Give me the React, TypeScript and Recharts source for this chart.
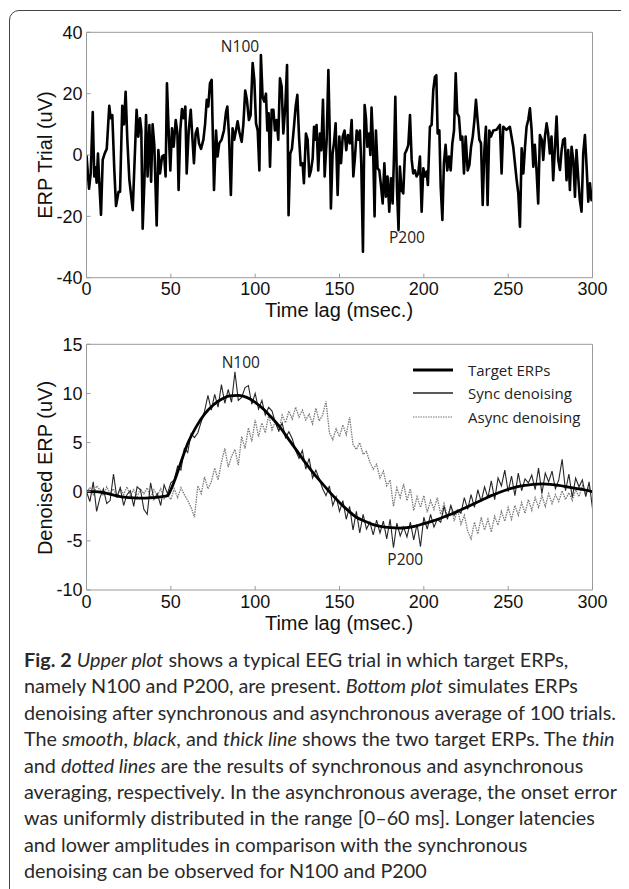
import React from "react";
import { LineChart, Line, XAxis, YAxis, ReferenceDot } from "recharts";

// upper plot: single EEG trial (time in ms, amplitude in uV)
const trialT = [
  0, 1.5, 2.5, 3.7, 4.6, 5.4, 6, 6.8, 7.4, 8.6, 9.6, 10.8, 12, 13.5, 14.3, 15.3, 16.5, 17.5, 19, 19.9,
  21.2, 22.2, 23.2, 24.2, 25.4, 27.4, 29, 29.7, 30.7, 31.7, 32.5, 33.3, 34.3, 35.3, 36.2, 37.3, 38.3, 39.2, 40.2, 41.6,
  42.6, 43.6, 44.8, 46, 46.9, 47.7, 48.7, 49.7, 50.7, 51.7, 52.9, 53.9, 54.6, 55.6, 56.6, 57.6, 58.6, 59.4, 60.6, 61.8,
  62.8, 63.7, 64.7, 65.7, 66.7, 67.9, 69.3, 70.3, 71.3, 72.2, 73.2, 74.2, 75.6, 76.8, 77.7, 78.7, 80.1, 81.5, 82.7, 83.5,
  84.5, 85.6, 86.6, 87.6, 88.6, 89.6, 90.6, 92, 93, 94.1, 95.1, 96.3, 97.3, 98.5, 99.5, 100.5, 101.5, 102.5, 103.4, 104.4,
  105.4, 106.4, 107.2, 108, 108.8, 109.8, 110.8, 111.7, 112.7, 113.7, 114.7, 115.7, 116.7, 117.9, 118.9, 119.8, 120.8, 121.8, 123, 124,
  125, 126, 127, 128.1, 128.9, 130.1, 131.1, 132.1, 133.1, 134.1, 134.9, 135.7, 136.4, 137.4, 138.4, 139.2, 140.2, 141.2, 142.4, 143.4,
  144.1, 144.9, 145.9, 146.7, 147.7, 148.9, 149.9, 150.9, 151.9, 153, 154, 155, 156.2, 157.2, 158.2, 159.2, 160.2, 161.1, 162.1, 162.9,
  163.9, 164.9, 165.7, 166.5, 167.5, 168.3, 169, 169.8, 170.8, 171.6, 172.6, 173.6, 174.6, 175.6, 176.6, 177.5, 178.5, 179.5, 180.5, 181.5,
  182.3, 183.1, 184.1, 185, 185.8, 186.8, 187.8, 188.8, 189.8, 190.8, 191.8, 192.8, 193.7, 194.7, 195.7, 196.7, 197.7, 198.7, 199.7, 200.7,
  201.7, 202.4, 203.6, 204.6, 205.6, 206.6, 207.4, 208.2, 209.2, 210, 211, 211.9, 212.9, 213.9, 214.9, 215.9, 216.9, 217.9, 218.9, 219.8,
  220.8, 221.8, 222.8, 223.8, 224.8, 226, 227, 228, 229, 230, 230.9, 231.9, 232.9, 233.9, 234.9, 235.9, 236.8, 237.8, 238.8, 239.8,
  241.2, 243.1, 245.1, 246.1, 247.1, 249, 251, 253, 255, 256, 257, 258, 259, 260, 260.9, 261.9, 262.9, 263.9, 264.9, 265.8,
  266.8, 267.8, 268.8, 270, 270.8, 271.8, 272.8, 273.7, 274.7, 275.7, 276.7, 277.7, 278.7, 279.7, 280.7, 281.7, 282.6, 283.6, 284.6, 285.6,
  286.6, 287.6, 288.6, 289.6, 290.5, 291.5, 292.5, 293.5, 294.5, 295.5, 296.5, 297.5, 298.5, 299.4, 300,
];
const trialV = [
  0, -11, -6, 14, -7, -4, -9, 0.5, -7, -19.5, -1.6, 0.5, 2, 16, 12, 13, -5, -16.6, -12, -12,
  16, 10, 20.6, 5, -8, -18, 5, 14.7, 6, 12, 8, -24, -9, 13, -7, 9.8, -8.7, 10, 3.3, -23,
  1.6, -6, -0.5, 0, -7, 23.4, 8, -5, 8.7, 2.7, 11.4, 7, -11.4, 8, 15, 12, 15.8, -6, 8, 14.7,
  5.4, -2.7, 7, 8.7, 3.8, 2, 5, 10, 18, 15.8, 23.4, 24.5, -11.4, 8, -0.5, 3.8, 5, 8, 14, 15.8,
  6, -13, 8.7, 5, 8, 11, 7.6, 4.3, 10, 21, 18, 11.4, 13, 30, 24.5, 10.3, 8, -5, 32.6, 19,
  17.4, 20, 8, 13.6, -3.8, 14.7, 14.7, 8, 11.4, 5, 25, 22.3, 7, 16.3, 29.3, -19.6, 0.5, 2, 9.2, 15.8,
  19.6, 6, -3.3, -2.7, -9.2, 7, 5, -7, -5, -1.1, 9.2, 5, 9.8, -5, 7, 1.6, 18, -7, 5, 27.7,
  10.3, -17.4, 0.5, 3.8, 10.3, -13, 6, -2.7, 6, 8, 1.6, 6.5, 3.8, 11.4, -7, -0.5, 8, 5, 8, -2.7,
  -31.5, 16.3, 12, 2.7, 7, 0, 15.5, 5, -20, 8, -4.3, -5, -10, -15.8, -2.7, -13.6, -7, -18.5, -7.6, -15.8,
  -0.5, 19, -11.4, -24.5, -3.8, -11.4, -12.5, 0.5, 1.6, 3.3, 13, -1.6, -6, -5, -7, -6, -0.5, -18.5, -4.3, -7,
  -5.4, -9.8, 9.2, 9.8, 21.2, 25.5, 26, 7, 8, -10.3, -21.2, -2.7, 3.3, -5, -0.5, -5, 3.8, 8, 26.6, 13.6,
  12.5, 5, 6, -6, 6, -5, -3.3, 2.7, 6, 11.4, 18, 11.4, 5, 3.8, -16.3, 1.6, 9.2, -16.3, 8, 6,
  8, 8.2, 9.8, -6, 9.2, 8.2, 9.2, 2.7, -8, -12.5, -23.4, 2.2, -6, 2.7, 9.2, 11.4, 15.2, 8.2, -3.8, 3.3,
  -4.9, -15.8, 6.5, 4.9, -1.6, 6, 10.3, 7, 0.5, 6, -8.2, 2.2, 12.5, -1.6, -4.9, 1.6, 4.9, 5.4, -8.2, 1.6,
  -11.4, 2.7, -1.6, -13.6, 1.6, -7, -14.7, -18.5, 0.5, 6.5, -3.8, -15.2, -9.2, -14.7, -13.6,
];

// lower plot: target ERP (smooth), every 5 ms
const targetT = [
  0, 5, 10, 15, 20, 25, 30, 35, 40, 45, 48, 50, 53, 56, 60, 65, 70, 75, 80, 85, 90, 95, 100, 105, 110, 115, 120,
  125, 130, 135, 140, 145, 150, 155, 160, 165, 170, 175, 180, 185, 190, 195, 200, 205, 210, 215, 220, 225, 230,
  235, 240, 245, 250, 255, 260, 265, 270, 275, 280, 285, 290, 295, 300,
];
const targetV = [
  0, 0, -0.1, -0.3, -0.5, -0.6, -0.65, -0.65, -0.6, -0.5, -0.4, 0.2, 1.5, 3.0, 4.9, 6.6, 7.9, 8.8, 9.4, 9.75, 9.8,
  9.6, 9.1, 8.4, 7.5, 6.5, 5.3, 4.1, 2.9, 1.8, 0.8, -0.2, -1.1, -1.9, -2.6, -3.0, -3.35, -3.55, -3.65, -3.7, -3.65,
  -3.5, -3.25, -3.0, -2.7, -2.35, -2.0, -1.6, -1.2, -0.8, -0.4, -0.05, 0.25, 0.5, 0.65, 0.75, 0.8, 0.75, 0.65, 0.5,
  0.35, 0.2, 0,
];

// sync / async averages, every 2 ms from 0 to 300
const syncV = [
  0, -1.0, 1.0, -2.0, -0.6, 0.3, -1.2, -0.9, 1.8, -0.6, 0.4, -1.4, -0.3, 0.1, -1.5, 0.5, 0.2, -1.8, -2.3, 0.9,
  -0.8, -0.2, -1.4, 0.7, -0.2, 0.9, 1.2, 2.6, 2.2, 4.4, 4.0, 5.9, 5.5, 6.0, 7.1, 8.2, 9.8, 8.3, 9.9, 8.6,
  10.9, 9.0, 10.4, 9.1, 12.2, 9.3, 9.6, 10.6, 10.8, 8.9, 10.0, 8.4, 9.3, 7.8, 8.6, 8.2, 7.0, 6.2, 7.0, 5.5,
  6.1, 5.4, 4.2, 3.4, 4.2, 2.3, 3.4, 1.4, 2.2, 1.3, 0.3, -0.4, 0.6, -1.4, -0.5, -2.0, -0.9, -2.8, -1.5, -3.9,
  -2.0, -4.2, -2.3, -3.8, -3.1, -4.4, -2.9, -4.2, -3.0, -4.8, -2.8, -5.7, -3.2, -4.5, -3.6, -4.6, -3.1, -4.9, -3.3, -5.6,
  -2.6, -3.8, -2.3, -3.6, -2.8, -3.1, -1.5, -2.8, -1.4, -2.4, -1.9, -2.2, -0.6, -1.8, -0.3, -1.6, 0.2, -1.0, 0.5, -0.6,
  1.1, -0.8, 1.4, 0.6, 2.2, 0.0, 1.6, -0.4, 1.9, 0.1, 1.3, 0.9, 1.7, 0.2, 2.4, -0.2, 1.9, 1.0, 2.1, 0.3,
  1.2, 3.3, 0.1, 1.8, -0.6, 1.4, 0.5, 1.2, -0.5, 1.0, -1.7,
];
const asyncV = [
  0, 0.4, -0.3, 0.6, 0.2, -0.4, 0.5, -0.2, 0.3, -0.5, 0.4, -0.3, 0.5, -0.4, 0.2, -0.5, 0.3, -0.2, 0.4, -0.6,
  0.2, -0.4, 0.3, -0.7, -0.3, -0.8, 0.3, -0.6, 0.4, -0.3, -0.9, -1.6, -2.6, 0.6, -0.2, 1.5, 0.3, 1.0, 2.4, 1.2,
  3.0, 4.4, 2.5, 3.6, 4.3, 2.7, 5.6, 4.4, 6.5, 5.1, 7.3, 5.6, 7.0, 6.0, 7.8, 6.3, 7.2, 6.1, 7.8, 7.0,
  8.2, 7.4, 8.6, 7.6, 8.3, 7.3, 7.9, 6.9, 8.5, 7.2, 7.8, 9.2, 6.0, 5.3, 6.4, 5.6, 6.8, 5.8, 7.6, 4.8,
  4.3, 5.0, 3.8, 4.1, 3.0, 2.3, 2.8, 1.4, 2.1, 0.6, 1.2, -1.5, 0.4, -0.6, 0.8, -0.9, 0.3, -1.9, -0.5, -1.6,
  -0.4, -2.1, -0.9, -1.8, -0.6, -2.3, -1.2, -2.6, -1.4, -3.0, -1.8, -3.3, -2.4, -4.0, -4.8, -3.1, -4.3, -2.6, -3.9, -2.8,
  -4.1, -2.5, -3.4, -2.0, -3.0, -1.6, -2.8, -1.4, -2.4, -1.1, -2.2, -0.8, -1.9, -0.6, -1.6, -0.4, -1.5, -0.2, -1.2, -0.3,
  -1.0, 0.1, -0.8, -0.1, -0.9, 0.2, -0.5, 0.6, -0.3, 0.4, -0.2,
];

const xTicks = [0, 50, 100, 150, 200, 250, 300];
const trialTicks = [-40, -20, 0, 20, 40];
const erpTicks = [-10, -5, 0, 5, 10, 15];

const trialMarks = [
  { name: "N100", t: 91, v: 35.5 },
  { name: "P200", t: 190, v: -26.8 },
];
const erpMarks = [
  { name: "N100", t: 91.5, v: 13.1 },
  { name: "P200", t: 189, v: -6.9 },
];

const legendItems = [
  { name: "Target ERPs", width: 3, color: "#000", dash: undefined },
  { name: "Sync denoising", width: 1.6, color: "#222", dash: undefined },
  { name: "Async denoising", width: 1.2, color: "#777", dash: "1.5 1" },
];

const trialData = trialT.map((t, i) => ({ t, v: trialV[i] }));
const targetData = targetT.map((t, i) => ({ t, v: targetV[i] }));
const syncData = syncV.map((v, i) => ({ t: i * 2, v }));
const asyncData = asyncV.map((v, i) => ({ t: i * 2, v }));

const AXIS = "#9a9a9a";
const tickFont = { fontSize: 18, fill: "#111", fontFamily: "Liberation Sans, Arial, sans-serif" };
const markFont = { fontSize: 15.5, fill: "#222", fontFamily: "Open Sans, sans-serif" };

// box axes with inward ticks on all four sides, MATLAB style
function axes(yDomain: [number, number], yTicks: number[]) {
  return [
    <XAxis
      key="xb"
      dataKey="t"
      type="number"
      domain={[0, 300]}
      ticks={xTicks}
      allowDataOverflow
      height={30.3}
      tickSize={-4}
      tickMargin={9}
      tick={tickFont}
      axisLine={{ stroke: AXIS }}
      tickLine={{ stroke: AXIS }}
    />,
    <XAxis
      key="xt"
      xAxisId="top"
      orientation="top"
      dataKey="t"
      type="number"
      domain={[0, 300]}
      ticks={xTicks}
      height={1}
      tickSize={-4}
      tick={false}
      axisLine={{ stroke: AXIS }}
      tickLine={{ stroke: AXIS }}
    />,
    <YAxis
      key="yl"
      type="number"
      domain={yDomain}
      ticks={yTicks}
      allowDataOverflow
      width={78.5}
      tickSize={-4}
      tickMargin={8}
      tick={tickFont}
      axisLine={{ stroke: AXIS }}
      tickLine={{ stroke: AXIS }}
    />,
    <YAxis
      key="yr"
      yAxisId="right"
      orientation="right"
      type="number"
      domain={yDomain}
      ticks={yTicks}
      width={1}
      tickSize={-4}
      tick={false}
      axisLine={{ stroke: AXIS }}
      tickLine={{ stroke: AXIS }}
    />,
  ];
}

function LegendBox() {
  return (
    <div style={{ fontFamily: "Open Sans, sans-serif", fontSize: 15, color: "#222" }}>
      {legendItems.map((it) => (
        <div key={it.name} style={{ display: "flex", alignItems: "center", height: 23.3 }}>
          <svg width={40} height={8} style={{ marginRight: 15 }}>
            <line x1={0} y1={4} x2={40} y2={4} stroke={it.color} strokeWidth={it.width} strokeDasharray={it.dash} />
          </svg>
          <span style={{ whiteSpace: "nowrap" }}>{it.name}</span>
        </div>
      ))}
    </div>
  );
}

const axisTitle: React.CSSProperties = {
  position: "absolute",
  fontFamily: "Liberation Sans, Arial, sans-serif",
  fontSize: 20,
  lineHeight: "22px",
  color: "#111",
  whiteSpace: "nowrap",
  transform: "translate(-50%, -50%)",
};

const captionLines: React.ReactNode[] = [
  <>
    <b>Fig. 2</b> <i>Upper plot</i> shows a typical EEG trial in which target ERPs,
  </>,
  <>
    namely N100 and P200, are present. <i>Bottom plot</i> simulates ERPs
  </>,
  <>denoising after synchronous and asynchronous average of 100 trials.</>,
  <>
    The <i>smooth</i>, <i>black</i>, and <i>thick line</i> shows the two target ERPs. The <i>thin</i>
  </>,
  <>
    and <i>dotted lines</i> are the results of synchronous and asynchronous
  </>,
  <>averaging, respectively. In the asynchronous average, the onset error</>,
  <>was uniformly distributed in the range [0–60 ms]. Longer latencies</>,
  <>and lower amplitudes in comparison with the synchronous</>,
  <>denoising can be observed for N100 and P200</>,
];

export default function App() {
  return (
    <div style={{ position: "relative", width: 621, height: 881, overflow: "hidden" }}>
      <div
        style={{
          position: "absolute",
          left: 1,
          top: 2,
          width: 700,
          height: 900,
          border: "1.5px solid #444",
          borderRadius: 10,
          boxSizing: "border-box",
        }}
      />

      {/* upper plot */}
      <div style={{ position: "absolute", left: 0, top: 0 }}>
        <LineChart width={621} height={300} margin={{ top: 23.3, right: 35.5, left: 0, bottom: 0 }}>
          {axes([-40, 40], trialTicks)}
          <Line
            data={trialData}
            dataKey="v"
            type="linear"
            stroke="#000"
            strokeWidth={2.6}
            strokeLinejoin="round"
            dot={false}
            isAnimationActive={false}
          />
          {trialMarks.map((m) => (
            <ReferenceDot
              key={m.name}
              x={m.t}
              y={m.v}
              r={1}
              fill="none"
              stroke="none"
              label={{ value: m.name, position: "center", ...markFont }}
            />
          ))}
        </LineChart>
      </div>
      <div style={{ ...axisTitle, left: 339 - 8, top: 310 - 8 }}>Time lag (msec.)</div>
      <div style={{ ...axisTitle, left: 45 - 8, top: 155 - 8, transform: "translate(-50%, -50%) rotate(-90deg)" }}>
        ERP Trial (uV)
      </div>

      {/* lower plot */}
      <div style={{ position: "absolute", left: 0, top: 322 }}>
        <LineChart width={621} height={290.3} margin={{ top: 13.3, right: 35.5, left: 0, bottom: 0 }}>
          {axes([-10, 15], erpTicks)}
          <Line
            data={asyncData}
            dataKey="v"
            type="linear"
            stroke="#7a7a7a"
            strokeWidth={1.3}
            strokeDasharray="1.5 1"
            dot={false}
            isAnimationActive={false}
          />
          <Line
            data={syncData}
            dataKey="v"
            type="linear"
            stroke="#262626"
            strokeWidth={1.1}
            dot={false}
            isAnimationActive={false}
          />
          <Line
            data={targetData}
            dataKey="v"
            type="monotone"
            stroke="#000"
            strokeWidth={2.8}
            dot={false}
            isAnimationActive={false}
          />
          {erpMarks.map((m) => (
            <ReferenceDot
              key={m.name}
              x={m.t}
              y={m.v}
              r={1}
              fill="none"
              stroke="none"
              label={{ value: m.name, position: "center", ...markFont }}
            />
          ))}
        </LineChart>
      </div>
      <div style={{ position: "absolute", left: 413 - 8, top: 358.3 - 8 }}>
        <LegendBox />
      </div>
      <div style={{ ...axisTitle, left: 339 - 8, top: 623 - 8 }}>Time lag (msec.)</div>
      <div style={{ ...axisTitle, left: 45 - 8, top: 467.5 - 8, transform: "translate(-50%, -50%) rotate(-90deg)" }}>
        Denoised ERP (uV)
      </div>

      {/* caption */}
      <div
        style={{
          position: "absolute",
          left: 24 - 8,
          top: 646 - 8,
          fontFamily: "Lato, sans-serif",
          fontSize: 19.8,
          lineHeight: "26.4px",
          color: "#2a2a2a",
        }}
      >
        {captionLines.map((l, i) => (
          <div key={i} style={{ whiteSpace: "nowrap" }}>
            {l}
          </div>
        ))}
      </div>
    </div>
  );
}
